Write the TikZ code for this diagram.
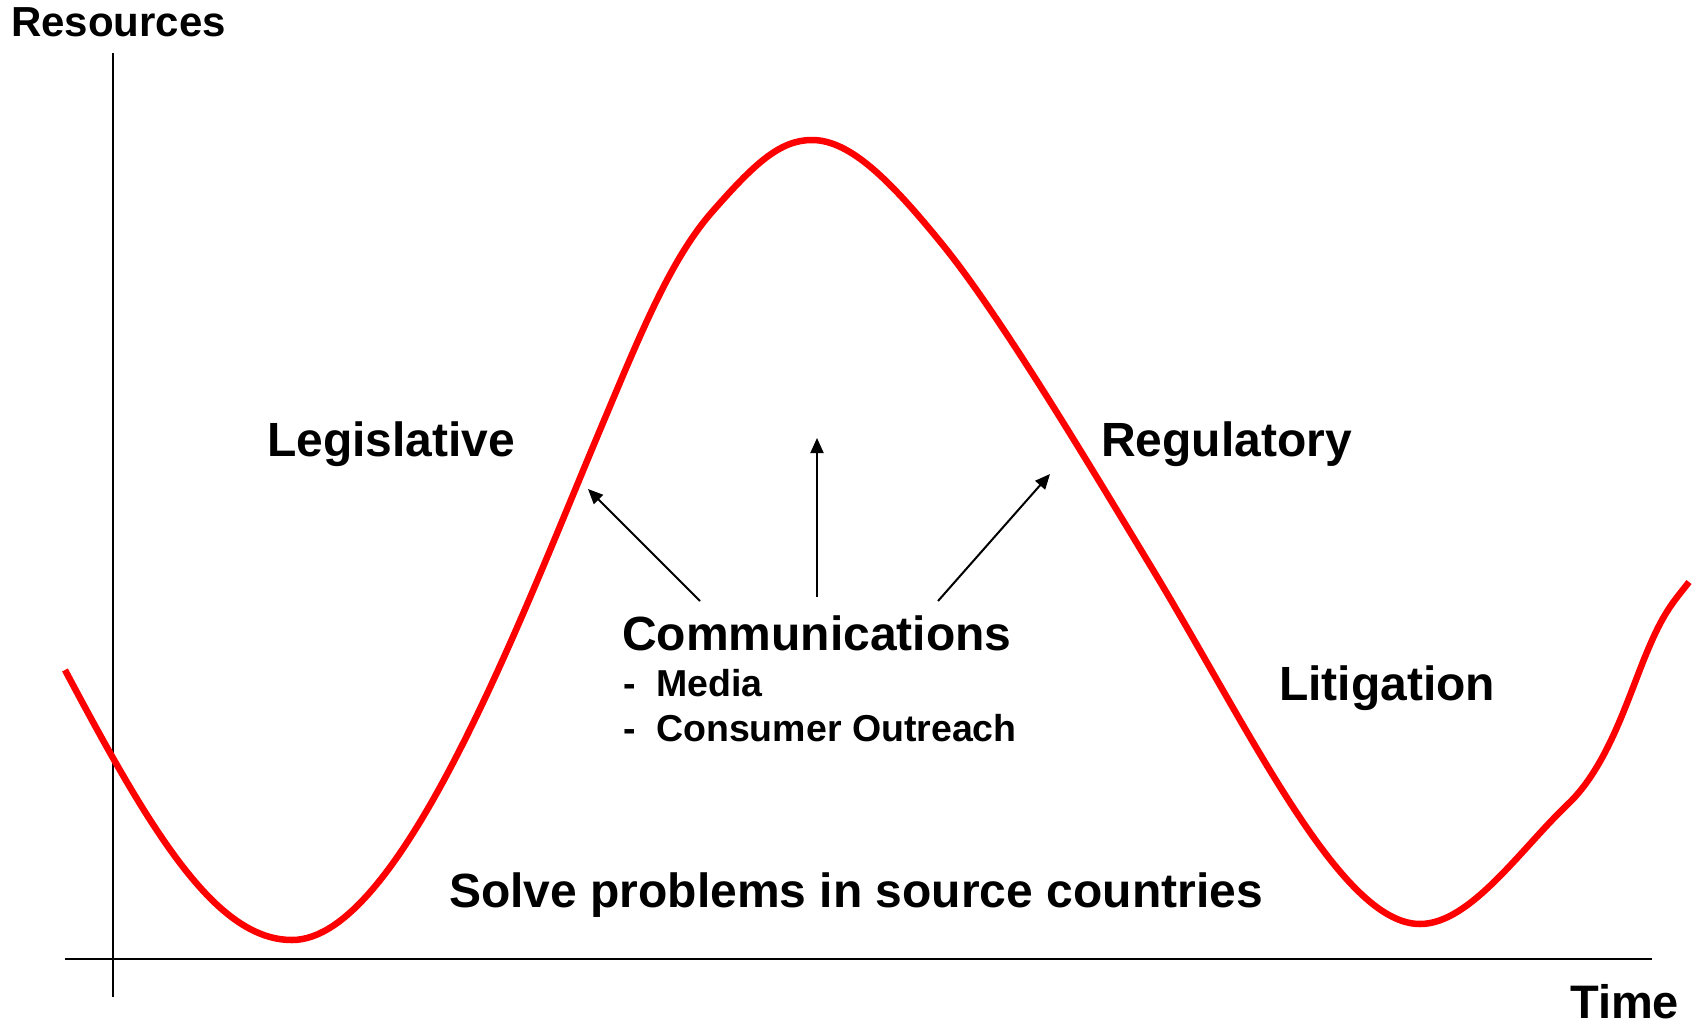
\documentclass[tikz,border=0pt]{standalone}
\usepackage{fontspec}
\setmainfont{Liberation Sans}
\usetikzlibrary{arrows.meta}
\begin{document}
\begin{tikzpicture}[x=1pt,y=-1pt,
  lbl/.style={inner sep=0pt,anchor=base west,font=\bfseries\fontsize{48}{48}\selectfont},
  sublbl/.style={inner sep=0pt,anchor=base west,font=\bfseries\fontsize{37.5}{37.5}\selectfont},
  axislbl/.style={inner sep=0pt,anchor=base west,font=\bfseries\fontsize{42}{42}\selectfont},
  axisline/.style={line width=2pt,black},
  curve/.style={line width=6.5pt,red,line join=round},
  pointer/.style={line width=2pt,-{Triangle[length=15pt,width=13pt]}}]
\useasboundingbox (0,0) rectangle (1697,1025);

% axes
\coordinate (ytop) at (113,53);
\coordinate (ybot) at (113,997);
\coordinate (xl) at (65,959);
\coordinate (xr) at (1652,959);
\draw[axisline] (ytop) -- (ybot);
\draw[axisline] (xl) -- (xr);

% resource curve over time
\draw[curve] (65,670)
  .. controls (150,830) and (215,940) .. (292,940)
  .. controls (400,940) and (520,620) .. (600,430)
  .. controls (640,335) and (670,260) .. (712,212)
  .. controls (755,163) and (780,140) .. (812,140)
  .. controls (850,140) and (890,180) .. (942,244)
  .. controls (1000,315) and (1090,466) .. (1150,565)
  .. controls (1250,730) and (1340,924) .. (1420,924)
  .. controls (1470,924) and (1520,850) .. (1567,805)
  .. controls (1610,765) and (1630,690) .. (1650,645)
  .. controls (1665,610) and (1675,600) .. (1689,582);

% labels
\node[axislbl] (res) at (11,37) {Resources};
\node[axislbl,font=\bfseries\fontsize{47}{47}\selectfont] (time) at (1570,1018) {Time};
\node[lbl] (leg) at (267,456) {Legislative};
\node[lbl] (reg) at (1101,456) {Regulatory};
\node[lbl] (lit) at (1279,700) {Litigation};
\node[lbl] (solve) at (449,907) {Solve problems in source countries};
\node[lbl] (comm) at (622,650) {Communications};
\node[sublbl] (d1) at (623,696) {-};
\node[sublbl] (media) at (656,696) {Media};
\node[sublbl] (d2) at (623,741) {-};
\node[sublbl] (outreach) at (656,741) {Consumer Outreach};

% arrows from Communications
\coordinate (aLs) at (700,601);
\coordinate (aLe) at (588,489);
\coordinate (aCs) at (817,597);
\coordinate (aCe) at (817,438);
\coordinate (aRs) at (938,601);
\coordinate (aRe) at (1050,474);
\draw[pointer] (aLs) -- (aLe);
\draw[pointer] (aCs) -- (aCe);
\draw[pointer] (aRs) -- (aRe);
\end{tikzpicture}
\end{document}
